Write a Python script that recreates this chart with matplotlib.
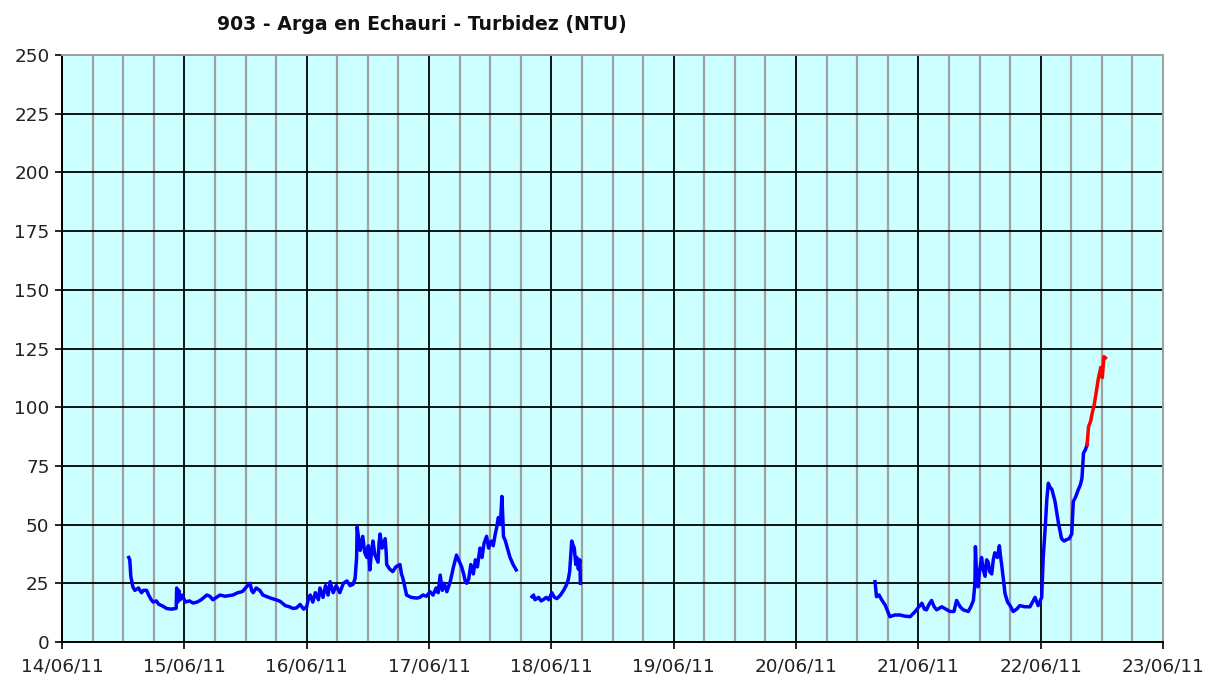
import matplotlib
matplotlib.use("Agg")
import matplotlib.pyplot as plt
import matplotlib.dates as mdates
from datetime import datetime, timedelta

TITLE = "903 - Arga en Echauri - Turbidez (NTU)"
START = datetime(2011, 6, 14)

# hours since 14/06/11 00:00 and turbidity values (NTU)
seg1_hours = [13.1, 13.3, 13.5, 13.9, 14.3, 15.0, 15.6, 16.0, 16.6, 17.0, 17.5, 17.9, 18.5, 19.0, 19.6,
              20.5, 21.4, 22.4, 22.5, 22.7, 22.9, 23.2, 23.6, 24.2, 25.0, 25.7, 26.5, 27.3, 28.4, 29.0,
              29.6, 30.3, 31.0, 32.0, 33.5, 34.5, 35.4, 36.2, 36.9, 37.2, 37.5, 38.1, 38.8, 39.4, 40.2,
              41.2, 42.0, 42.8, 43.8, 44.6, 45.3, 46.0, 46.7, 47.4, 48.0, 48.4, 48.7, 49.2, 49.7, 50.3,
              50.6, 51.2, 51.7, 52.2, 52.6, 53.2, 53.8, 54.5, 55.2, 55.9, 56.5, 57.1, 57.5, 57.8, 57.9,
              58.2, 58.5, 59.0, 59.4, 59.8, 60.1, 60.4, 60.7, 61.0, 61.4, 62.0, 62.2, 62.4, 62.8, 63.4,
              63.6, 63.7, 64.3, 64.9, 65.5, 66.3, 66.6, 66.9, 67.3, 67.6, 68.5, 69.6, 70.2, 70.8, 71.5,
              72.2, 72.8, 73.4, 73.8, 74.2, 74.6, 75.0, 75.5, 76.2, 76.8, 77.4, 77.8, 78.4, 78.8, 79.1,
              79.4, 79.8, 80.2, 80.7, 81.1, 81.5, 82.0, 82.4, 82.8, 83.3, 83.7, 84.2, 84.6, 85.0, 85.3,
              85.6, 86.0, 86.3, 86.5, 86.6, 87.0, 87.5, 87.9, 88.5, 89.1]
seg1_vals = [36, 35, 28, 23.5, 22, 23, 21, 22, 22, 20, 18, 17, 17.5, 16, 15.5,
             14.3, 14, 14.3, 23, 17, 22, 18, 20, 17, 17.5, 16.6, 17, 18, 20, 19.5,
             18, 19, 20, 19.5, 20, 21, 21.5, 23.5, 25, 22, 21, 23, 22, 20, 19.3,
             18.5, 18, 17.3, 15.5, 15, 14.3, 14.5, 16, 14, 15, 19, 20, 17, 21, 18,
             23, 19, 24, 20, 25.7, 21, 24, 21, 25, 26, 24, 24.6, 27, 36, 49,
             44, 39, 45, 38, 36, 41, 30.7, 38, 43, 37, 34, 42, 46, 40, 44,
             38, 33, 31, 30, 32, 33, 29, 27, 23, 20, 19, 18.7, 19, 20, 19.5,
             21.4, 20, 23, 21, 28.5, 22, 25, 21.4, 26, 32, 37, 35, 32, 29, 26,
             25, 27, 33, 29, 35, 32, 40, 36, 42, 45, 40, 43, 41, 46, 49,
             53, 50, 62, 52, 45, 43, 39, 36, 33, 30.7]

seg2_hours = [92.2, 92.5, 92.8, 93.5, 94.0, 94.4, 95.0, 95.5, 96.1, 96.6, 97.1, 97.8, 98.4, 98.9,
              99.3, 99.6, 100.0, 100.3, 100.5, 100.8, 101.0, 101.3, 101.6, 101.7]
seg2_vals = [19.3, 20, 18, 19, 17.5, 18, 19, 18, 21, 19, 18.5, 20, 22, 24,
             26.4, 30, 43, 41, 40, 33, 36, 31, 35, 25]

seg3_hours = [159.5, 159.8, 160.3, 160.8, 161.1, 161.5, 162.0, 162.4, 163.4, 164.4, 165.4, 166.4, 167.4,
              168.1, 168.7, 169.2, 169.6, 170.1, 170.6, 171.1, 171.6, 172.6, 173.4, 174.2, 175.0, 175.5,
              176.2, 176.8, 177.8, 178.3, 178.8, 179.1, 179.2, 179.4, 179.7, 180.0, 180.4, 180.7, 181.1,
              181.4, 181.7, 182.0, 182.4, 182.7, 183.0, 183.5, 183.9, 184.1, 184.4, 185.0, 185.5, 186.0,
              186.6, 187.3, 187.9, 188.9, 189.9, 190.4, 190.9, 191.5, 192.2, 192.5, 192.9, 193.2, 193.5,
              193.8, 194.2, 194.8, 195.5, 196.1, 196.6, 197.1, 197.6, 198.1, 198.4, 198.9, 199.4, 199.8,
              200.1, 200.4, 200.8, 201.1]
seg3_vals = [25.7, 19.3, 20, 18, 17, 15.7, 13, 10.8, 11.5, 11.5, 11, 10.8, 13,
             15, 16.5, 14, 13.7, 16, 17.7, 15, 13.7, 15, 14, 13, 13, 17.7,
             15, 13.7, 13, 15, 17.7, 25, 40.6, 30, 23.5, 30, 36, 31, 28,
             35, 34, 30, 29, 35, 38, 36, 41, 37, 32, 20.7, 17, 15.5,
             13, 14, 15.5, 15, 15, 17, 19, 15.5, 19, 36, 49, 60.5, 67.6,
             66, 65, 60, 50.5, 44, 43, 43.6, 44, 46, 59.8, 62, 65, 67,
             69.7, 80.4, 82, 84]

red_hours = [201.1, 201.4, 201.8, 202.1, 202.5, 202.8, 203.3, 203.8, 204.1, 204.4, 204.7]
red_vals = [84, 91.7, 94, 97.4, 101, 105, 112, 117, 112.6, 121.5, 121]


def to_dates(hours):
    return [START + timedelta(hours=h) for h in hours]


fig = plt.figure(figsize=(12.08, 6.77), dpi=100)
ax = fig.add_axes([62 / 1208, 35 / 677, (1163 - 62) / 1208, (642 - 55) / 677])
ax.set_facecolor("#CCFFFF")

ax.plot(to_dates(seg1_hours), seg1_vals, color="#0000FF", lw=2.5, zorder=3)
ax.plot(to_dates(seg2_hours), seg2_vals, color="#0000FF", lw=2.5, zorder=3)
ax.plot(to_dates(seg3_hours), seg3_vals, color="#0000FF", lw=2.5, zorder=3)
ax.plot(to_dates(red_hours), red_vals, color="#FF0000", lw=2.5, zorder=4)

ax.set_xlim(START, START + timedelta(days=9))
ax.set_ylim(0, 250)
ax.set_yticks(range(0, 251, 25))

ax.xaxis.set_major_locator(mdates.DayLocator())
ax.xaxis.set_major_formatter(mdates.DateFormatter("%d/%m/%y"))
ax.xaxis.set_minor_locator(mdates.HourLocator(byhour=[6, 12, 18]))

ax.grid(which="minor", axis="x", color="#A0A0A0", lw=1.6, zorder=1)
ax.grid(which="major", axis="x", color="black", lw=1.3, zorder=2)
ax.grid(which="major", axis="y", color="black", lw=1.3, zorder=2)
ax.set_axisbelow(True)

ax.tick_params(axis="both", which="major", length=5, width=1.2, color="black",
               labelsize=13.2, labelcolor="#222222")
ax.tick_params(axis="x", which="major", pad=6)
ax.tick_params(axis="y", which="major", pad=4)
ax.tick_params(axis="x", which="minor", length=0)

for s in ["left", "bottom"]:
    ax.spines[s].set_color("black")
    ax.spines[s].set_linewidth(1.4)
ax.spines["top"].set_color("#A0A0A0")
ax.spines["top"].set_linewidth(1.4)
ax.spines["right"].set_color("#A0A0A0")
ax.spines["right"].set_linewidth(1.4)

fig.text(422 / 1208, 1 - 24 / 677, TITLE, ha="center", va="center",
         fontsize=13.6, fontweight="bold", color="#111111")

fig.savefig("out.png", dpi=100, facecolor="white")
